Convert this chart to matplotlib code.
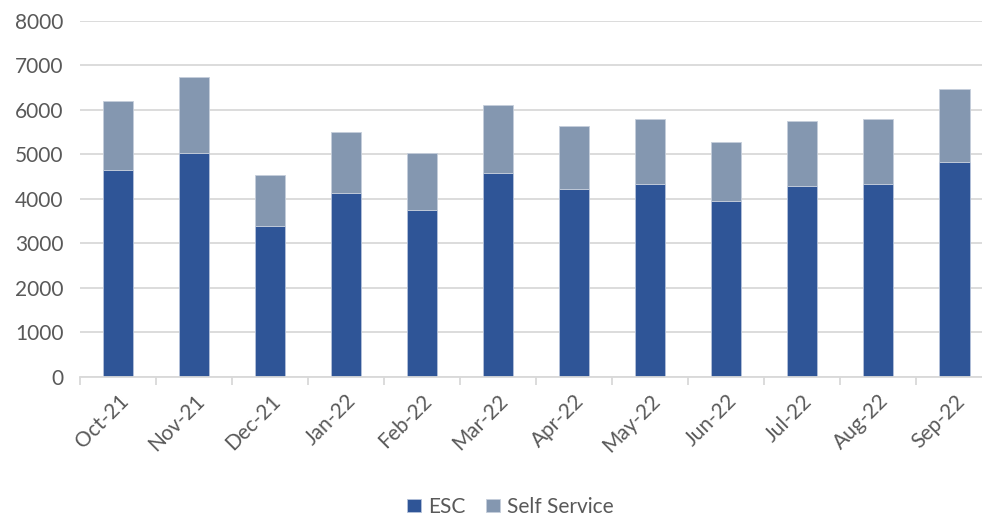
import matplotlib.pyplot as plt
import numpy as np

months = ["Oct-21", "Nov-21", "Dec-21", "Jan-22", "Feb-22", "Mar-22",
          "Apr-22", "May-22", "Jun-22", "Jul-22", "Aug-22", "Sep-22"]
esc = [4645, 5035, 3385, 4135, 3755, 4585, 4225, 4335, 3955, 4290, 4335, 4825]
self_service = [1555, 1690, 1160, 1370, 1280, 1525, 1410, 1460, 1320, 1450, 1460, 1630]

ESC_COLOR = "#2F5597"
SELF_COLOR = "#8497B0"
TEXT_COLOR = "#595959"
GRID_COLOR = "#D9D9D9"

plt.rcParams["font.family"] = ["Lato", "DejaVu Sans"]

fig = plt.figure(figsize=(9.82, 5.15), dpi=100)
ax = fig.add_axes([0.0815, 0.268, 0.929, 0.692])

x = np.arange(len(months))
ax.bar(x, esc, width=0.4, color=ESC_COLOR, edgecolor="#B4C2DA",
       linewidth=0.6, label="ESC", zorder=3)
ax.bar(x, self_service, width=0.4, bottom=esc, color=SELF_COLOR,
       edgecolor="#C5CEDB", linewidth=0.6, label="Self Service", zorder=3)

ax.set_xlim(-0.5, len(months) - 0.5)
ax.set_ylim(0, 8000)
ax.set_yticks(range(0, 8001, 1000))
ax.yaxis.grid(True, color=GRID_COLOR, linewidth=1.3, zorder=0)

ax.set_xticks(x)
ax.set_xticklabels(months, rotation=45, ha="right", rotation_mode="anchor")
ax.set_xticks(np.arange(-0.5, len(months), 1), minor=True)
ax.tick_params(axis="x", which="major", length=0, pad=10,
               labelsize=15, labelcolor=TEXT_COLOR)
ax.tick_params(axis="x", which="minor", length=6, width=1.3, color=GRID_COLOR)
ax.tick_params(axis="y", length=0, pad=12, labelsize=15, labelcolor=TEXT_COLOR)

for side in ("top", "right", "left"):
    ax.spines[side].set_visible(False)
ax.spines["bottom"].set_color(GRID_COLOR)
ax.spines["bottom"].set_linewidth(1.3)
ax.spines["bottom"].set_zorder(4)

fig.legend(loc="lower center", bbox_to_anchor=(0.52, -0.04), ncol=2,
           frameon=False, fontsize=15, labelcolor=TEXT_COLOR,
           handlelength=0.65, handleheight=0.65, handletextpad=0.35,
           columnspacing=1.0)

fig.savefig("out.png", dpi=100)
